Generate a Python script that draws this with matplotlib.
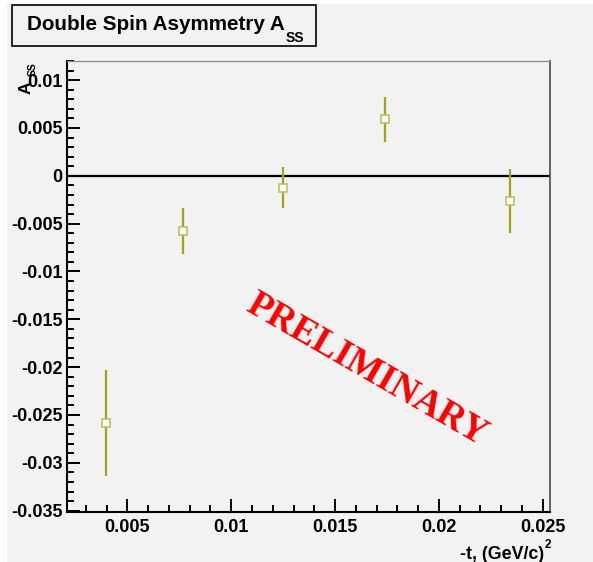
import numpy as np
import matplotlib.pyplot as plt
from matplotlib.patches import Rectangle
from matplotlib.ticker import FixedLocator, FixedFormatter, MultipleLocator

# -t bins and measured double spin asymmetry with errors
t_vals = [0.00398, 0.00769, 0.01249, 0.01740, 0.02341]
a_ss = [-0.02587, -0.00575, -0.00125, 0.00589, -0.00264]
a_err = [0.00554, 0.00243, 0.00215, 0.00235, 0.00330]

x_ticks = [0.005, 0.01, 0.015, 0.02, 0.025]
x_labels = ['0.005', '0.01', '0.015', '0.02', '0.025']
y_ticks = [-0.035, -0.03, -0.025, -0.02, -0.015, -0.01, -0.005, 0, 0.005, 0.01]
y_labels = ['-0.035', '-0.03', '-0.025', '-0.02', '-0.015', '-0.01', '-0.005', '0', '0.005', '0.01']

W, H = 593, 562
BG = '#f2f2f2'
OLIVE = '#a3a31c'
SANS = ['Liberation Sans', 'DejaVu Sans']


def px(x, y):
    # pixel position (from top-left) -> figure fraction
    return x / W, 1 - y / H


fig = plt.figure(figsize=(W / 100, H / 100), dpi=100, facecolor='white')
fig.patches.append(Rectangle(px(7, H), (W - 7) / W, (H - 4) / H,
                             transform=fig.transFigure, facecolor=BG,
                             edgecolor='none', zorder=-10))

ax = fig.add_axes([67 / W, 1 - 511.7 / H, (550 - 67) / W, (511.7 - 61) / H])
ax.set_facecolor(BG)
ax.set_xlim(0.00209, 0.02535)
ax.set_ylim(-0.03511, 0.012)

ax.axhline(0, color='black', lw=1.6, zorder=2)
ax.errorbar(t_vals, a_ss, yerr=a_err, fmt='none', ecolor=OLIVE, elinewidth=1.6,
            capsize=0, zorder=3)
ax.plot(t_vals, a_ss, 's', ms=6, mfc='white', mec='#bcbc5a', mew=1.1, zorder=4)

ax.xaxis.set_major_locator(FixedLocator(x_ticks))
ax.xaxis.set_major_formatter(FixedFormatter(x_labels))
ax.yaxis.set_major_locator(FixedLocator(y_ticks))
ax.yaxis.set_major_formatter(FixedFormatter(y_labels))
ax.xaxis.set_minor_locator(MultipleLocator(0.001))
ax.yaxis.set_minor_locator(MultipleLocator(0.001))
ax.tick_params(which='both', direction='in', top=False, right=False, width=1.4, color='black')
ax.tick_params(which='major', length=9.4)
ax.tick_params(which='minor', length=4.8)
ax.tick_params(axis='x', pad=5)
ax.tick_params(axis='y', pad=3)
for lab in ax.get_xticklabels() + ax.get_yticklabels():
    lab.set_family(SANS)
    lab.set_fontweight('bold')
    lab.set_fontsize(13)

ax.spines['left'].set_linewidth(1.5)
ax.spines['bottom'].set_linewidth(1.5)
ax.spines['top'].set_color('#8a8a8a')
ax.spines['top'].set_linewidth(0.9)
ax.spines['right'].set_color('#555555')
ax.spines['right'].set_linewidth(1.3)

ax.text(0.01655, -0.0203, 'PRELIMINARY', color='red', fontsize=27,
        family=['Liberation Serif', 'DejaVu Serif'], fontweight='bold',
        rotation=-30, rotation_mode='anchor', ha='center', va='center', zorder=5)

# title box
fig.patches.append(Rectangle(px(12, 46), 304 / W, 41 / H, transform=fig.transFigure,
                             facecolor=BG, edgecolor='black', lw=1.2, zorder=5))
renderer = fig.canvas.get_renderer()
t1 = fig.text(*px(27, 30.5), 'Double Spin Asymmetry A', family=SANS, fontweight='bold',
              fontsize=14.9, va='baseline', ha='left', zorder=6)
bb = t1.get_window_extent(renderer)
fig.text(bb.x1 / W + 1 / W, 1 - 41.5 / H, 'SS', family=SANS, fontweight='bold',
         fontsize=10, va='baseline', ha='left', zorder=6)

# y axis label (rotated A_SS)
fig.text(*px(30.5, 81), 'A', family=SANS, fontweight='bold', fontsize=12.5,
         rotation=90, rotation_mode='anchor', ha='right', va='baseline')
fig.text(*px(36, 76), 'SS', family=SANS, fontweight='bold', fontsize=7.5,
         rotation=90, rotation_mode='anchor', ha='left', va='baseline')

# x axis label
t2 = fig.text(*px(544, 559), '-t, (GeV/c)', family=SANS, fontweight='bold',
              fontsize=12.8, ha='right', va='baseline')
bb2 = t2.get_window_extent(renderer)
fig.text(bb2.x1 / W + 0.5 / W, 1 - 548 / H, '2', family=SANS, fontweight='bold',
         fontsize=8.5, ha='left', va='baseline')

fig.savefig('out.png', dpi=100, facecolor=fig.get_facecolor())
